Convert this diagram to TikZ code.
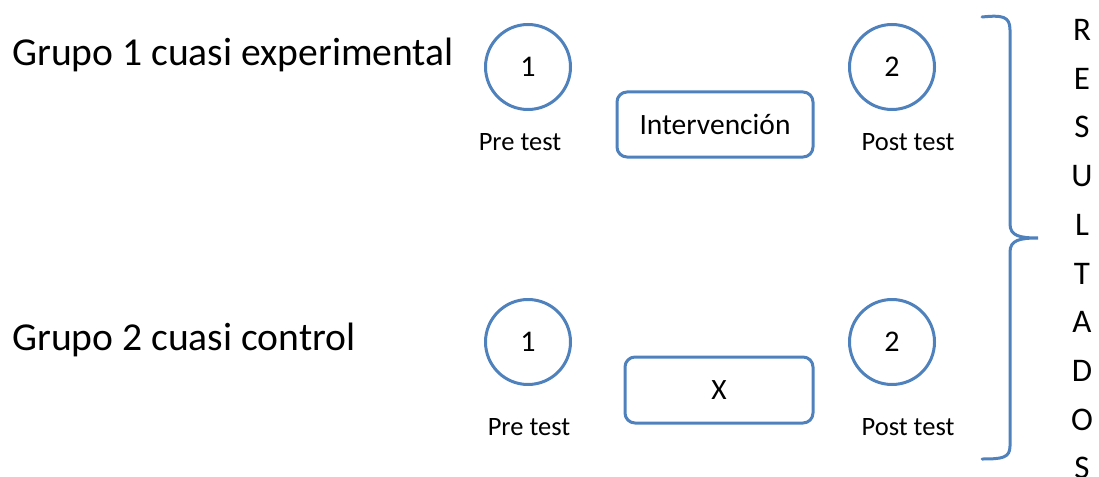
\documentclass[tikz,border=0pt]{standalone}
\usepackage{fontspec}
\setmainfont{Carlito}
\definecolor{officeblue}{HTML}{4F81BD}
\tikzset{
  stage/.style={circle, draw=officeblue, line width=3pt, minimum size=85pt, inner sep=0pt, font=\fontsize{30}{34}\selectfont},
  treatment/.style={rectangle, rounded corners=10pt, draw=officeblue, line width=3pt, inner sep=0pt, font=\fontsize{29.5}{34}\selectfont},
  grouplabel/.style={anchor=base west, inner sep=0pt, font=\fontsize{39.6}{44}\selectfont},
  testlabel/.style={anchor=base, inner sep=0pt, font=\fontsize{26.5}{30}\selectfont},
  letter/.style={inner sep=0pt, font=\fontsize{33}{38}\selectfont},
  bracket/.style={draw=officeblue, line width=3pt, line cap=round}
}
\begin{document}
\begin{tikzpicture}[x=1pt,y=-1pt]
  \useasboundingbox (0,0) rectangle (1099,476);

  % group names
  \node[grouplabel] (g1) at (12,66) {Grupo 1 cuasi experimental};
  \node[grouplabel] (g2) at (12,350) {Grupo 2 cuasi control};

  % group 1: measurements and intervention
  \node[stage] (a1) at (528,67) {1};
  \node[stage] (a2) at (892,67) {2};
  \node[testlabel] (pa1) at (520,150) {Pre test};
  \node[testlabel] (pa2) at (908,150) {Post test};
  \node[treatment, minimum width=196pt, minimum height=65pt] (ia) at (715,124.5) {Intervención};

  % group 2: measurements, no intervention
  \node[stage] (b1) at (528,342) {1};
  \node[stage] (b2) at (892,342) {2};
  \node[testlabel] (pb1) at (529,435) {Pre test};
  \node[testlabel] (pb2) at (908,435) {Post test};
  \node[treatment, minimum width=188pt, minimum height=66pt] (ib) at (719,390) {X};

  % closing brace over both groups
  \draw[bracket] (982,17) .. controls (1002,15) and (1010,16) .. (1010,30)
    -- (1010,224) .. controls (1010,236) and (1020,238) .. (1038,238)
    .. controls (1020,238) and (1010,240) .. (1010,252)
    -- (1010,446) .. controls (1010,458) and (1002,459) .. (982,459);

  % vertical caption
  \foreach \l [count=\i from 0] in {R,E,S,U,L,T,A,D,O,S}
    \node[letter] (r\i) at (1082,{30+48.7*\i}) {\l};
\end{tikzpicture}
\end{document}
